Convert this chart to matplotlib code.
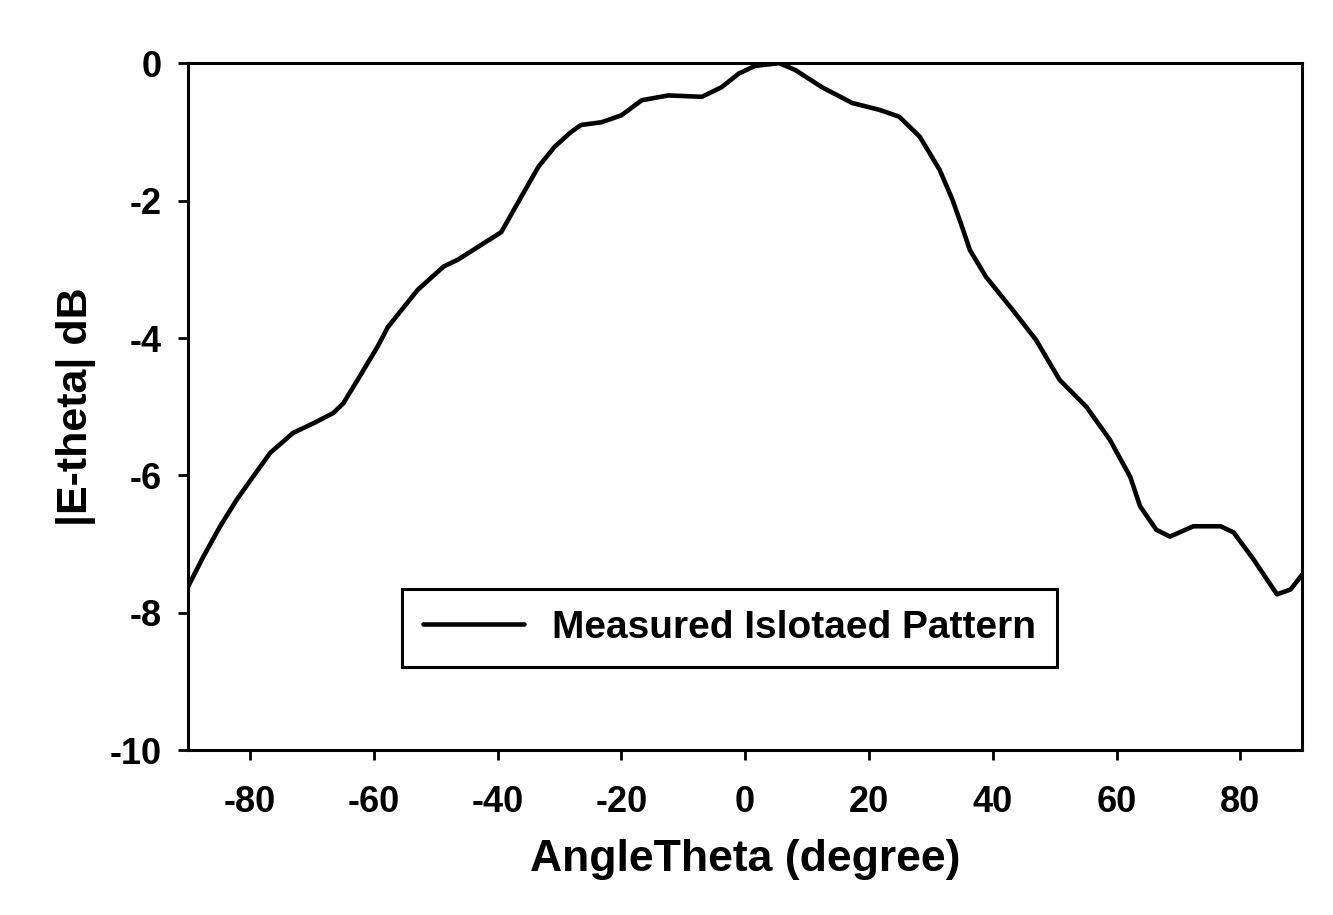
import matplotlib.pyplot as plt

# angle (deg) and measured |E-theta| (dB)
angle = [-90, -87.5, -84.8, -82.1, -79.5, -76.7, -73.0, -69.7, -66.5, -64.9,
         -62.6, -59.4, -57.7, -52.9, -48.7, -46.4, -39.4, -36.2, -33.4, -30.8,
         -28.1, -26.5, -23.2, -20.0, -16.7, -12.4, -7.0, -3.8, -1.0, 1.6,
         5.5, 8.1, 12.4, 17.3, 21.7, 24.9, 28.2, 31.4, 33.5, 35.1, 36.3,
         38.9, 43.2, 47.0, 50.8, 55.1, 58.9, 62.2, 63.8, 66.4, 68.6,
         72.4, 76.8, 78.9, 82.1, 85.9, 88.1, 90]
e_theta = [-7.62, -7.18, -6.74, -6.35, -6.02, -5.67, -5.38, -5.24, -5.09, -4.95,
           -4.61, -4.13, -3.84, -3.30, -2.96, -2.86, -2.46, -1.95, -1.51, -1.22,
           -1.00, -0.90, -0.86, -0.76, -0.54, -0.47, -0.49, -0.35, -0.15, -0.04,
           0.0, -0.10, -0.35, -0.58, -0.68, -0.78, -1.07, -1.55, -1.99, -2.40, -2.72,
           -3.11, -3.59, -4.03, -4.61, -5.00, -5.48, -6.02, -6.45, -6.79, -6.89,
           -6.74, -6.74, -6.83, -7.22, -7.73, -7.66, -7.44]

plt.rcParams['font.family'] = ['Liberation Sans', 'DejaVu Sans']
plt.rcParams['font.weight'] = 'bold'
plt.rcParams['axes.unicode_minus'] = False

fig = plt.figure(figsize=(13.33, 9.15), dpi=100)
ax = fig.add_axes([0.141, 0.180, 0.836, 0.751])

ax.plot(angle, e_theta, color='black', linewidth=3.3, solid_joinstyle='round',
        solid_capstyle='round', label='Measured Islotaed Pattern')

ax.set_xlim(-90, 90)
ax.set_ylim(-10, 0)
ax.set_xticks([-80, -60, -40, -20, 0, 20, 40, 60, 80])
ax.set_yticks([-10, -8, -6, -4, -2, 0])
ax.tick_params(direction='out', length=7, width=2, labelsize=26)
ax.tick_params(axis='x', pad=18)
ax.tick_params(axis='y', pad=12)
for s in ax.spines.values():
    s.set_linewidth(2.2)

ax.set_xlabel('AngleTheta (degree)', fontsize=32, fontweight='bold', labelpad=14)
ax.set_ylabel('|E-theta| dB', fontsize=31, fontweight='bold', labelpad=10)

leg = ax.legend(loc='center', bbox_to_anchor=(0.486, 0.178), fontsize=28,
                fancybox=False, edgecolor='black', framealpha=1,
                handlelength=2.6, borderpad=0.55, handletextpad=0.7,
                borderaxespad=0)
leg.get_frame().set_linewidth(2.2)

fig.savefig('out.png', dpi=100)
